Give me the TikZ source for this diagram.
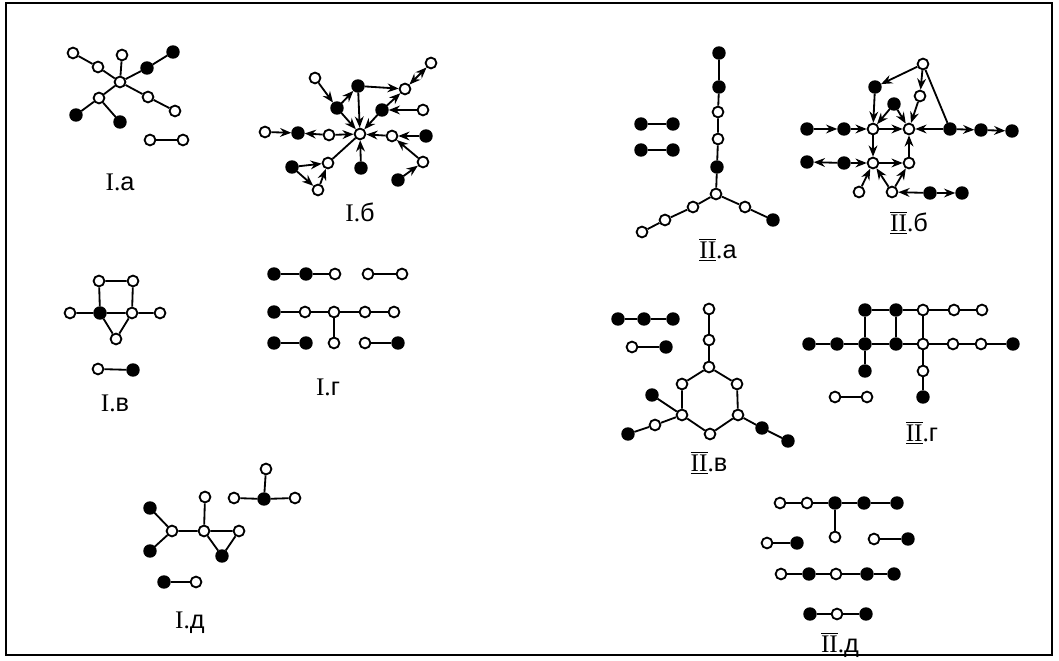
\documentclass[tikz,border=0pt]{standalone}
\usepackage{fontspec}
\setmainfont{Liberation Serif}
\newfontfamily\lsans{Liberation Sans}
\usepackage{tikz}
\usetikzlibrary{arrows.meta}

\begin{document}
\begin{tikzpicture}[
        x=0.025cm, y=-0.025cm,
        font=\fontsize{18pt}{20pt}\selectfont,
        wn/.style={circle, draw, fill=white, line width=1.3pt, inner sep=0pt, minimum size=0.27cm},
        bn/.style={circle, draw, fill=black, line width=1.3pt, inner sep=0pt, minimum size=0.29cm},
        ln/.style={line width=1.3pt},
        arr/.style={ln, -{Stealth[length=2.8mm, width=2.2mm]}},
        barr/.style={ln, {Stealth[length=2.8mm, width=2.2mm]}-{Stealth[length=2.8mm, width=2.2mm]}},
        lab/.style={inner sep=0pt}
    ]
        \useasboundingbox (0,0) rectangle (1059,661);
        \draw[ln] (6,3) rectangle (1052,655);

        % I.a
        \node[wn] (ia1) at (73,53) {};
        \node[wn] (ia2) at (98,67) {};
        \node[wn] (ia3) at (122,55) {};
        \node[bn] (ia4) at (173,52) {};
        \node[bn] (ia5) at (147,68) {};
        \node[wn] (iac) at (120,82) {};
        \node[wn] (ia6) at (148,97) {};
        \node[wn] (ia7) at (175,111) {};
        \node[wn] (iab) at (99,98) {};
        \node[bn] (ia8) at (76,115) {};
        \node[bn] (ia9) at (120,122) {};
        \node[wn] (iap) at (150,140) {};
        \node[wn] (iaq) at (183,140) {};
        \node[lab] (iat) at (120,182) {I.{\lsans а}};
        \draw[ln] (ia1) -- (ia2) -- (iac) -- (ia6) -- (ia7);
        \draw[ln] (ia4) -- (ia5) -- (iac) -- (iab) -- (ia8);
        \draw[ln] (ia3) -- (iac);
        \draw[ln] (iab) -- (ia9);
        \draw[ln] (iap) -- (iaq);

        % I.b
        \node[wn] (ibz) at (360,134) {};
        \node[wn] (iba1) at (315,78) {};
        \node[bn] (iba2) at (337,108) {};
        \node[bn] (iba3) at (358,86) {};
        \node[wn] (iba4) at (405,89) {};
        \node[wn] (iba5) at (431,63) {};
        \node[bn] (iba6) at (382,110) {};
        \node[wn] (iba7) at (423,110) {};
        \node[wn] (ibw1) at (265,132) {};
        \node[bn] (ibw2) at (298,133) {};
        \node[wn] (ibw3) at (329,135) {};
        \node[wn] (ibe1) at (392,136) {};
        \node[bn] (ibe2) at (426,136) {};
        \node[wn] (ibe3) at (423,162) {};
        \node[bn] (ibe4) at (398,180) {};
        \node[bn] (ibs1) at (361,168) {};
        \node[wn] (ibt1) at (328,163) {};
        \node[bn] (ibt2) at (292,167) {};
        \node[wn] (ibt3) at (318,190) {};
        \node[lab] (ibt) at (360,212) {I.{\lsans б}};
        \draw[arr] (iba1) -- (iba2);
        \draw[arr] (iba2) -- (iba3);
        \draw[arr] (iba3) -- (iba4);
        \draw[barr] (iba4) -- (iba5);
        \draw[arr] (iba6) -- (iba4);
        \draw[arr] (iba7) -- (iba6);
        \draw[arr] (iba6) -- (ibz);
        \draw[arr] (iba2) -- (ibz);
        \draw[arr] (iba3) -- (ibz);
        \draw[arr] (ibw1) -- (ibw2);
        \draw[arr] (ibw3) -- (ibw2);
        \draw[arr] (ibw3) -- (ibz);
        \draw[arr] (ibe1) -- (ibz);
        \draw[arr] (ibe2) -- (ibe1);
        \draw[arr] (ibe3) -- (ibe1);
        \draw[arr] (ibe4) -- (ibe3);
        \draw[arr] (ibs1) -- (ibz);
        \draw[ln] (ibt1) -- (ibz);
        \draw[arr] (ibt2) -- (ibt1);
        \draw[arr] (ibt2) -- (ibt3);
        \draw[arr] (ibt3) -- (ibt1);

        % II.a
        \node[bn] (iiav1) at (719,53) {};
        \node[bn] (iiav2) at (719,87) {};
        \node[wn] (iiav3) at (718,112) {};
        \node[wn] (iiav4) at (718,139) {};
        \node[bn] (iiav5) at (717,167) {};
        \node[wn] (iiay) at (716,194) {};
        \node[wn] (iial1) at (693,207) {};
        \node[wn] (iial2) at (665,220) {};
        \node[wn] (iial3) at (642,232) {};
        \node[wn] (iiar1) at (745,207) {};
        \node[bn] (iiar2) at (773,220) {};
        \node[bn] (iiap1) at (641,124) {};
        \node[bn] (iiap2) at (673,124) {};
        \node[bn] (iiaq1) at (641,150) {};
        \node[bn] (iiaq2) at (673,150) {};
        \node[lab] (iiat) at (718,250) {$\overline{\underline{\mbox{II}}}$.{\lsans а}};
        \draw[ln] (iiav1) -- (iiav2) -- (iiav3) -- (iiav4) -- (iiav5) -- (iiay);
        \draw[ln] (iiay) -- (iial1) -- (iial2) -- (iial3);
        \draw[ln] (iiay) -- (iiar1) -- (iiar2);
        \draw[ln] (iiap1) -- (iiap2);
        \draw[ln] (iiaq1) -- (iiaq2);

        % II.b
        \node[wn] (iibT) at (923,64) {};
        \node[bn] (iibu1) at (875,87) {};
        \node[wn] (iibu2) at (920,96) {};
        \node[bn] (iibu3) at (894,104) {};
        \node[wn] (iibP) at (873,129) {};
        \node[wn] (iibQ) at (909,129) {};
        \node[bn] (iibh1) at (807,129) {};
        \node[bn] (iibh2) at (844,129) {};
        \node[bn] (iibh3) at (950,129) {};
        \node[bn] (iibh4) at (981,130) {};
        \node[bn] (iibh5) at (1012,131) {};
        \node[wn] (iibR) at (873,163) {};
        \node[wn] (iibS) at (909,163) {};
        \node[bn] (iibg1) at (807,162) {};
        \node[bn] (iibg2) at (844,163) {};
        \node[wn] (iibk1) at (859,192) {};
        \node[wn] (iibK) at (892,192) {};
        \node[bn] (iibm1) at (930,193) {};
        \node[bn] (iibm2) at (962,193) {};
        \node[lab] (iibt) at (909,223) {$\overline{\underline{\mbox{II}}}$.{\lsans б}};
        \draw[arr] (iibT) -- (iibu1);
        \draw[arr] (iibT) -- (iibu2);
        \draw[ln] (iibT) -- (iibh3);
        \draw[arr] (iibu1) -- (iibP);
        \draw[arr] (iibu2) -- (iibQ);
        \draw[arr] (iibu3) -- (iibP);
        \draw[arr] (iibu3) -- (iibQ);
        \draw[arr] (iibh1) -- (iibh2);
        \draw[arr] (iibh2) -- (iibP);
        \draw[arr] (iibP) -- (iibQ);
        \draw[arr] (iibh3) -- (iibQ);
        \draw[arr] (iibh3) -- (iibh4);
        \draw[arr] (iibh4) -- (iibh5);
        \draw[arr] (iibP) -- (iibR);
        \draw[arr] (iibS) -- (iibQ);
        \draw[arr] (iibg2) -- (iibg1);
        \draw[arr] (iibg2) -- (iibR);
        \draw[arr] (iibR) -- (iibS);
        \draw[arr] (iibk1) -- (iibR);
        \draw[arr] (iibK) -- (iibR);
        \draw[arr] (iibK) -- (iibS);
        \draw[arr] (iibm1) -- (iibK);
        \draw[arr] (iibm1) -- (iibm2);

        % I.v
        \node[wn] (icq1) at (99,281) {};
        \node[wn] (icq2) at (133,281) {};
        \node[wn] (icL) at (70,313) {};
        \node[bn] (icF) at (100,313) {};
        \node[wn] (icG) at (132,313) {};
        \node[wn] (icR) at (160,313) {};
        \node[wn] (icB) at (116,339) {};
        \node[wn] (icp) at (98,369) {};
        \node[bn] (icq) at (133,370) {};
        \node[lab] (ict) at (115,403) {I.{\lsans в}};
        \draw[ln] (icq1) -- (icq2) -- (icG) -- (icF) -- (icq1);
        \draw[ln] (icL) -- (icF) -- (icB) -- (icG) -- (icR);
        \draw[ln] (icp) -- (icq);

        % I.g
        \node[bn] (ida1) at (274,274) {};
        \node[bn] (ida2) at (306,274) {};
        \node[wn] (ida3) at (335,274) {};
        \node[wn] (ida4) at (368,274) {};
        \node[wn] (ida5) at (402,274) {};
        \node[bn] (idb1) at (274,312) {};
        \node[wn] (idb2) at (305,312) {};
        \node[wn] (idb3) at (334,312) {};
        \node[wn] (idb4) at (365,312) {};
        \node[wn] (idb5) at (394,312) {};
        \node[bn] (idc1) at (274,343) {};
        \node[bn] (idc2) at (306,343) {};
        \node[wn] (idc3) at (334,343) {};
        \node[wn] (idc4) at (365,343) {};
        \node[bn] (idc5) at (398,343) {};
        \node[lab] (idt) at (328,387) {I.{\lsans г}};
        \draw[ln] (ida1) -- (ida2) -- (ida3);
        \draw[ln] (ida4) -- (ida5);
        \draw[ln] (idb1) -- (idb2) -- (idb3) -- (idb4) -- (idb5);
        \draw[ln] (idb3) -- (idc3);
        \draw[ln] (idc1) -- (idc2);
        \draw[ln] (idc4) -- (idc5);

        % II.v
        \node[bn] (iicpa1) at (618,319) {};
        \node[bn] (iicpa2) at (644,319) {};
        \node[bn] (iicpa3) at (673,319) {};
        \node[wn] (iicpb1) at (632,347) {};
        \node[bn] (iicpb2) at (666,347) {};
        \node[wn] (iict1) at (709,309) {};
        \node[wn] (iict2) at (709,340) {};
        \node[wn] (iich1) at (709,367) {};
        \node[wn] (iich2) at (737,384) {};
        \node[wn] (iich3) at (738,415) {};
        \node[wn] (iich4) at (710,434) {};
        \node[wn] (iich5) at (682,415) {};
        \node[wn] (iich6) at (682,384) {};
        \node[bn] (iicx1) at (762,428) {};
        \node[bn] (iicx2) at (788,441) {};
        \node[wn] (iicy1) at (655,425) {};
        \node[bn] (iicy2) at (628,434) {};
        \node[bn] (iicz) at (652,395) {};
        \node[lab] (iict) at (709,463) {$\overline{\underline{\mbox{II}}}$.{\lsans в}};
        \draw[ln] (iicpa1) -- (iicpa2) -- (iicpa3);
        \draw[ln] (iicpb1) -- (iicpb2);
        \draw[ln] (iict1) -- (iict2) -- (iich1);
        \draw[ln] (iich1) -- (iich2) -- (iich3) -- (iich4) -- (iich5) -- (iich6) -- (iich1);
        \draw[ln] (iich3) -- (iicx1) -- (iicx2);
        \draw[ln] (iich5) -- (iicy1) -- (iicy2);
        \draw[ln] (iich5) -- (iicz);

        % II.g
        \node[bn] (iidt1) at (865,310) {};
        \node[bn] (iidt2) at (896,310) {};
        \node[wn] (iidt3) at (923,310) {};
        \node[wn] (iidt4) at (954,310) {};
        \node[wn] (iidt5) at (982,310) {};
        \node[bn] (iidm1) at (809,344) {};
        \node[bn] (iidm2) at (837,344) {};
        \node[bn] (iidm3) at (865,344) {};
        \node[bn] (iidm4) at (896,344) {};
        \node[wn] (iidm5) at (923,344) {};
        \node[wn] (iidm6) at (953,344) {};
        \node[wn] (iidm7) at (981,344) {};
        \node[bn] (iidm8) at (1013,344) {};
        \node[bn] (iidd1) at (865,371) {};
        \node[wn] (iidd2) at (923,371) {};
        \node[bn] (iidd3) at (923,397) {};
        \node[wn] (iidp) at (835,397) {};
        \node[wn] (iidq) at (867,397) {};
        \node[lab] (iidt) at (922,433) {$\overline{\underline{\mbox{II}}}$.{\lsans г}};
        \draw[ln] (iidt1) -- (iidt2) -- (iidt3) -- (iidt4) -- (iidt5);
        \draw[ln] (iidm1) -- (iidm2) -- (iidm3) -- (iidm4) -- (iidm5) -- (iidm6) -- (iidm7) -- (iidm8);
        \draw[ln] (iidt1) -- (iidm3) -- (iidd1);
        \draw[ln] (iidt2) -- (iidm4);
        \draw[ln] (iidt3) -- (iidm5) -- (iidd2) -- (iidd3);
        \draw[ln] (iidp) -- (iidq);

        % I.d
        \node[bn] (ief1) at (150,508) {};
        \node[bn] (ief2) at (150,551) {};
        \node[wn] (iej1) at (172,531) {};
        \node[wn] (iej2) at (204,531) {};
        \node[wn] (iejt) at (205,497) {};
        \node[wn] (iej3) at (239,531) {};
        \node[bn] (iej4) at (222,556) {};
        \node[wn] (ies0) at (266,469) {};
        \node[wn] (ies1) at (234,498) {};
        \node[bn] (iesc) at (264,499) {};
        \node[wn] (ies2) at (295,498) {};
        \node[bn] (iep) at (164,582) {};
        \node[wn] (ieq) at (196,582) {};
        \node[lab] (iet) at (190,623) {I.{\lsans д}};
        \draw[ln] (ief1) -- (iej1) -- (ief2);
        \draw[ln] (iej1) -- (iej2) -- (iej3) -- (iej4) -- (iej2) -- (iejt);
        \draw[ln] (ies1) -- (iesc) -- (ies2);
        \draw[ln] (ies0) -- (iesc);
        \draw[ln] (iep) -- (ieq);

        % II.d
        \node[wn] (iiea1) at (780,503) {};
        \node[wn] (iiea2) at (807,503) {};
        \node[bn] (iiea3) at (835,503) {};
        \node[bn] (iiea4) at (864,503) {};
        \node[bn] (iiea5) at (897,503) {};
        \node[wn] (iiea6) at (835,537) {};
        \node[wn] (iiep1) at (767,543) {};
        \node[bn] (iiep2) at (797,543) {};
        \node[wn] (iieq1) at (874,539) {};
        \node[bn] (iieq2) at (908,539) {};
        \node[wn] (iieb1) at (781,574) {};
        \node[bn] (iieb2) at (809,574) {};
        \node[wn] (iieb3) at (836,574) {};
        \node[bn] (iieb4) at (867,574) {};
        \node[bn] (iieb5) at (894,574) {};
        \node[bn] (iiec1) at (810,614) {};
        \node[wn] (iiec2) at (837,614) {};
        \node[bn] (iiec3) at (866,614) {};
        \node[lab] (iiet) at (840,645) {$\overline{\underline{\mbox{II}}}$.{\lsans д}};
        \draw[ln] (iiea1) -- (iiea2) -- (iiea3) -- (iiea4) -- (iiea5);
        \draw[ln] (iiea3) -- (iiea6);
        \draw[ln] (iiep1) -- (iiep2);
        \draw[ln] (iieq1) -- (iieq2);
        \draw[ln] (iieb1) -- (iieb2) -- (iieb3) -- (iieb4) -- (iieb5);
        \draw[ln] (iiec1) -- (iiec2) -- (iiec3);
    \end{tikzpicture}
\end{document}
